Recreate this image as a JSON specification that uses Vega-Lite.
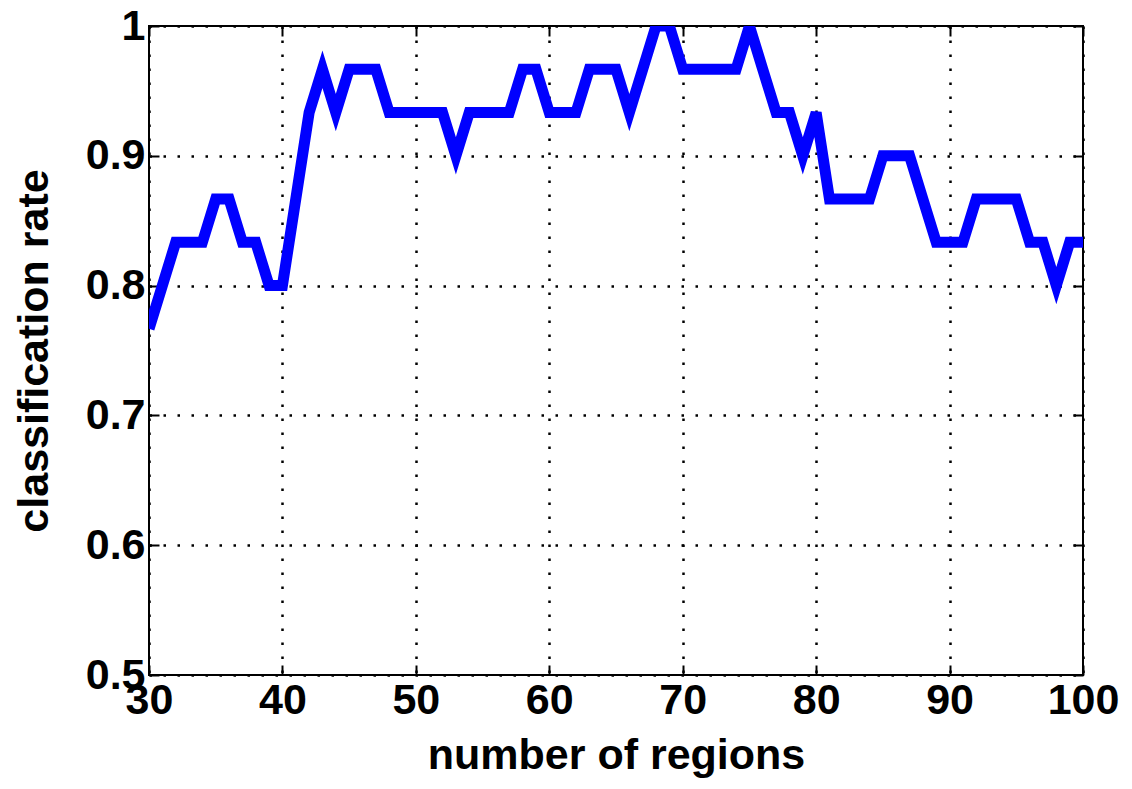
{
  "$schema": "https://vega.github.io/schema/vega-lite/v6.json",
  "width": 934,
  "height": 649,
  "autosize": {"type": "none"},
  "padding": {"left": 149, "top": 26, "right": 49, "bottom": 114},
  "background": "white",
  "config": {
    "view": {"stroke": "#000000", "strokeWidth": 2},
    "axis": {
      "labelFont": "Liberation Sans",
      "labelFontWeight": "bold",
      "labelFontSize": 43,
      "labelColor": "#000000",
      "labelFlush": false,
      "titleFont": "Liberation Sans",
      "titleFontWeight": "bold",
      "titleFontSize": 43,
      "titleColor": "#000000",
      "domain": false,
      "tickColor": "#000000",
      "tickWidth": 2,
      "tickSize": -10,
      "gridColor": "#000000",
      "gridWidth": 2.5,
      "gridDash": [2.5, 11.5],
      "gridOpacity": 1
    }
  },
  "data": {
    "values": [
      {"regions": 30, "rate": 0.76667},
      {"regions": 31, "rate": 0.8},
      {"regions": 32, "rate": 0.83333},
      {"regions": 33, "rate": 0.83333},
      {"regions": 34, "rate": 0.83333},
      {"regions": 35, "rate": 0.86667},
      {"regions": 36, "rate": 0.86667},
      {"regions": 37, "rate": 0.83333},
      {"regions": 38, "rate": 0.83333},
      {"regions": 39, "rate": 0.8},
      {"regions": 40, "rate": 0.8},
      {"regions": 41, "rate": 0.86667},
      {"regions": 42, "rate": 0.93333},
      {"regions": 43, "rate": 0.96667},
      {"regions": 44, "rate": 0.93333},
      {"regions": 45, "rate": 0.96667},
      {"regions": 46, "rate": 0.96667},
      {"regions": 47, "rate": 0.96667},
      {"regions": 48, "rate": 0.93333},
      {"regions": 49, "rate": 0.93333},
      {"regions": 50, "rate": 0.93333},
      {"regions": 51, "rate": 0.93333},
      {"regions": 52, "rate": 0.93333},
      {"regions": 53, "rate": 0.9},
      {"regions": 54, "rate": 0.93333},
      {"regions": 55, "rate": 0.93333},
      {"regions": 56, "rate": 0.93333},
      {"regions": 57, "rate": 0.93333},
      {"regions": 58, "rate": 0.96667},
      {"regions": 59, "rate": 0.96667},
      {"regions": 60, "rate": 0.93333},
      {"regions": 61, "rate": 0.93333},
      {"regions": 62, "rate": 0.93333},
      {"regions": 63, "rate": 0.96667},
      {"regions": 64, "rate": 0.96667},
      {"regions": 65, "rate": 0.96667},
      {"regions": 66, "rate": 0.93333},
      {"regions": 67, "rate": 0.96667},
      {"regions": 68, "rate": 1.0},
      {"regions": 69, "rate": 1.0},
      {"regions": 70, "rate": 0.96667},
      {"regions": 71, "rate": 0.96667},
      {"regions": 72, "rate": 0.96667},
      {"regions": 73, "rate": 0.96667},
      {"regions": 74, "rate": 0.96667},
      {"regions": 75, "rate": 1.0},
      {"regions": 76, "rate": 0.96667},
      {"regions": 77, "rate": 0.93333},
      {"regions": 78, "rate": 0.93333},
      {"regions": 79, "rate": 0.9},
      {"regions": 80, "rate": 0.93333},
      {"regions": 81, "rate": 0.86667},
      {"regions": 82, "rate": 0.86667},
      {"regions": 83, "rate": 0.86667},
      {"regions": 84, "rate": 0.86667},
      {"regions": 85, "rate": 0.9},
      {"regions": 86, "rate": 0.9},
      {"regions": 87, "rate": 0.9},
      {"regions": 88, "rate": 0.86667},
      {"regions": 89, "rate": 0.83333},
      {"regions": 90, "rate": 0.83333},
      {"regions": 91, "rate": 0.83333},
      {"regions": 92, "rate": 0.86667},
      {"regions": 93, "rate": 0.86667},
      {"regions": 94, "rate": 0.86667},
      {"regions": 95, "rate": 0.86667},
      {"regions": 96, "rate": 0.83333},
      {"regions": 97, "rate": 0.83333},
      {"regions": 98, "rate": 0.8},
      {"regions": 99, "rate": 0.83333},
      {"regions": 100, "rate": 0.83333}
    ]
  },
  "layer": [
    {
      "mark": {"type": "line", "color": "#0000ff", "strokeWidth": 11, "clip": true},
      "encoding": {
        "x": {
          "field": "regions", "type": "quantitative",
          "scale": {"domain": [30, 100], "nice": false, "zero": false},
          "axis": {
            "orient": "bottom",
            "values": [30, 40, 50, 60, 70, 80, 90, 100],
            "title": "number of regions",
            "labelPadding": 14,
            "titlePadding": 12,
            "grid": true
          }
        },
        "y": {
          "field": "rate", "type": "quantitative",
          "scale": {"domain": [0.5, 1], "nice": false, "zero": false},
          "axis": {
            "orient": "left",
            "values": [0.5, 0.6, 0.7, 0.8, 0.9, 1],
            "format": ".1~f",
            "title": "classification rate",
            "labelPadding": 14,
            "titlePadding": 29,
            "grid": true
          }
        }
      }
    },
    {
      "mark": {"type": "line", "opacity": 0},
      "encoding": {
        "x": {
          "field": "regions", "type": "quantitative",
          "axis": {
            "orient": "top",
            "values": [30, 40, 50, 60, 70, 80, 90, 100],
            "labels": false,
            "title": null,
            "grid": false
          }
        },
        "y": {
          "field": "rate", "type": "quantitative",
          "axis": {
            "orient": "right",
            "values": [0.5, 0.6, 0.7, 0.8, 0.9, 1],
            "labels": false,
            "title": null,
            "grid": false
          }
        }
      }
    }
  ],
  "resolve": {"axis": {"x": "independent", "y": "independent"}}
}
